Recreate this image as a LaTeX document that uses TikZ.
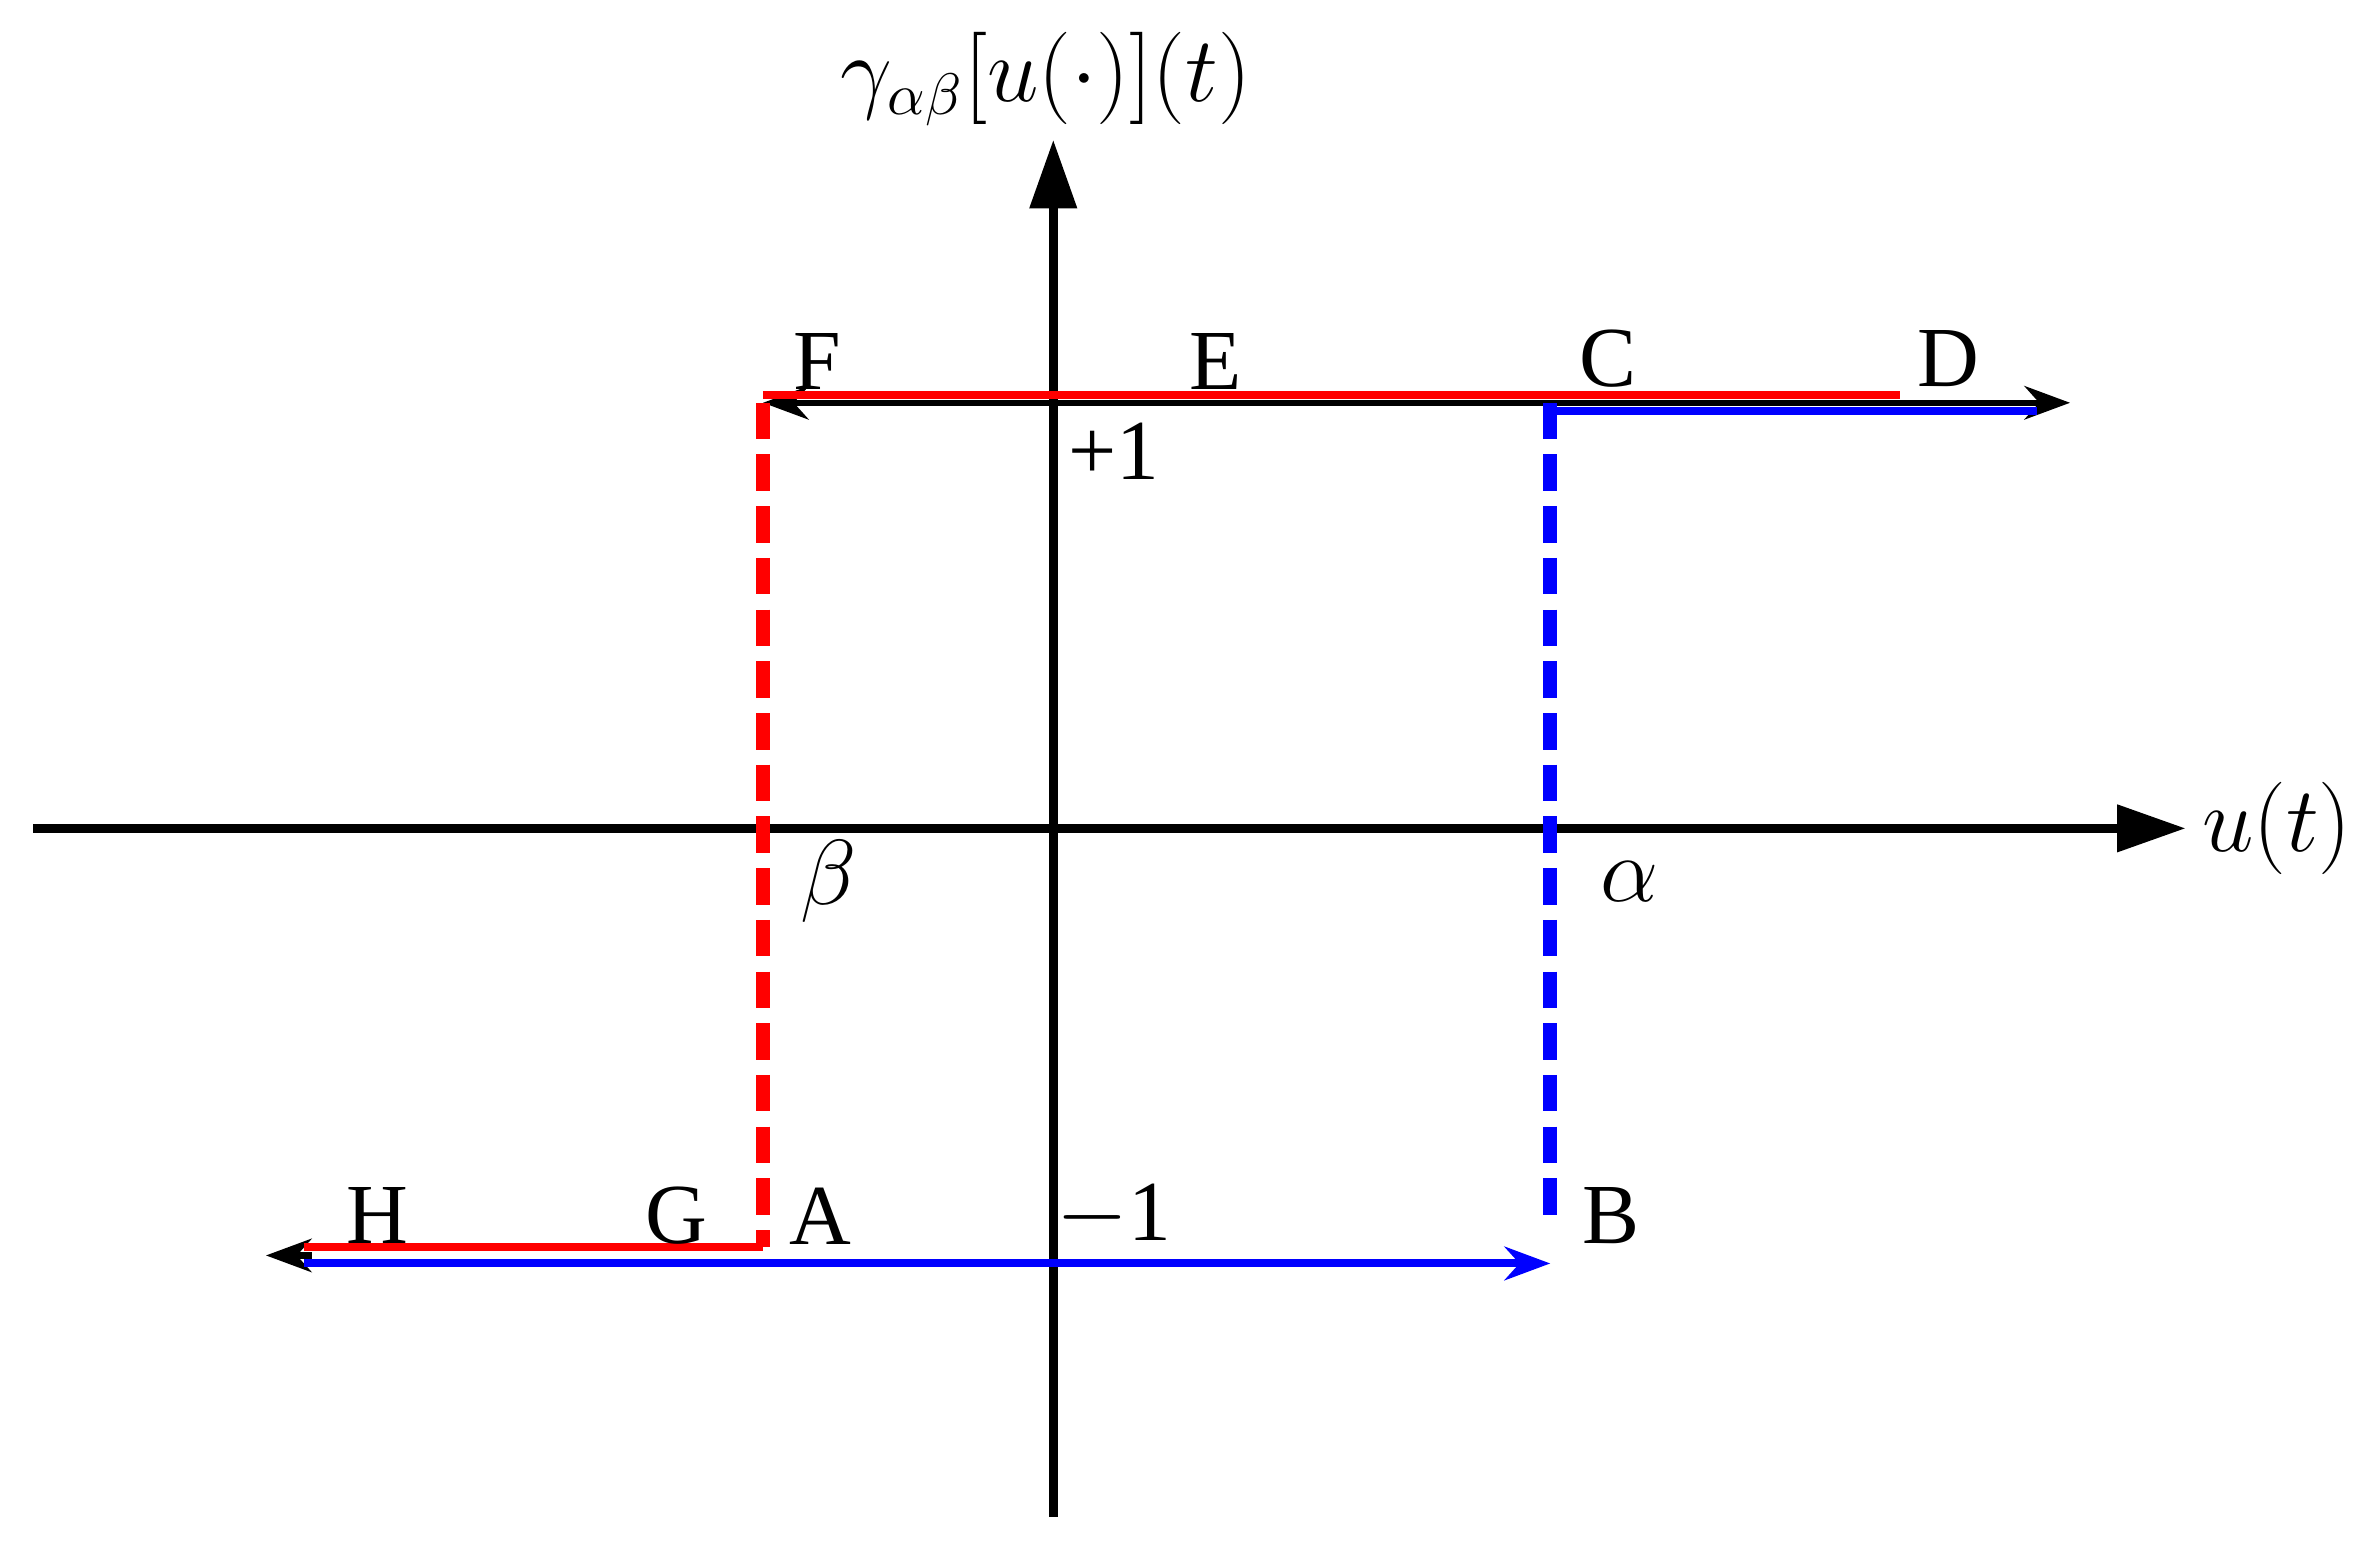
\documentclass[tikz,border=0pt]{standalone}
\usepackage{fontspec}
\setmainfont{Liberation Serif}
\usetikzlibrary{arrows.meta, positioning}
\tikzset{
    axis/.style={line width=1.6pt, -{Triangle[length=0.45cm, width=0.3cm]}},
    branch/.style={line width=1.5pt},
    jump/.style={line width=2.6pt, dash pattern=on 0.24cm off 0.1cm},
    tip/.style={line width=1.2pt, -{Stealth[length=0.3cm, width=0.22cm]}},
    tag/.style={font=\fontsize{16}{18}\selectfont, inner sep=1pt},
}
\begin{document}
\begin{tikzpicture}[x=0.01cm, y=-0.01cm]
    \useasboundingbox (0,0) rectangle (1560,1026);

    % axes
    \coordinate (xl) at (22,545);
    \coordinate (xr) at (1438,545);
    \coordinate (yb) at (693,998);
    \coordinate (yt) at (693,92);
    \draw[axis] (xl) -- (xr);
    \draw[axis] (yb) -- (yt);
    \node[tag] (ut) at (1498,545) {$u(t)$};
    \node[tag] (gam) at (688,52) {$\gamma_{\alpha\beta}[u(\cdot)](t)$};

    % levels
    \coordinate (F) at (502,265);
    \coordinate (Ctop) at (1020,265);
    \coordinate (Dtop) at (1362,265);
    \coordinate (A) at (502,826);
    \coordinate (B) at (1020,826);
    \coordinate (Hend) at (175,826);

    \draw[tip] (Ctop) -- (F);
    \draw[tip] (Ctop) -- (Dtop);
    \draw[branch, red] ([yshift=1.5]F) -- ([yshift=1.5]1250,265);
    \draw[branch, blue] ([yshift=-1.5]Ctop) -- ([yshift=-1.5]1340,265);

    \draw[tip] (205,826) -- (Hend);
    \draw[branch, blue, -{Stealth[length=0.3cm, width=0.22cm]}] ([yshift=-1.5]200,826) -- ([yshift=-1.5]B);
    \draw[branch, red] ([yshift=1.5]200,826) -- ([yshift=1.5]A);

    % switching lines
    \draw[jump, red] (F) -- ([yshift=1.5]A);
    \draw[jump, blue] (Ctop) -- ([yshift=5]B);

    % labels
    \node[tag] (lF) at (538,238) {F};
    \node[tag] (lE) at (800,238) {E};
    \node[tag] (lC) at (1058,236) {C};
    \node[tag] (lD) at (1282,236) {D};
    \node[tag] (lp) at (733,297) {+1};
    \node[tag] (lb) at (545,580) {$\beta$};
    \node[tag] (la) at (1072,580) {$\alpha$};
    \node[tag] (lH) at (248,800) {H};
    \node[tag] (lG) at (445,800) {G};
    \node[tag] (lA) at (540,800) {A};
    \node[tag] (lm) at (733,800) {$-$1};
    \node[tag] (lB) at (1060,800) {B};
\end{tikzpicture}
\end{document}
